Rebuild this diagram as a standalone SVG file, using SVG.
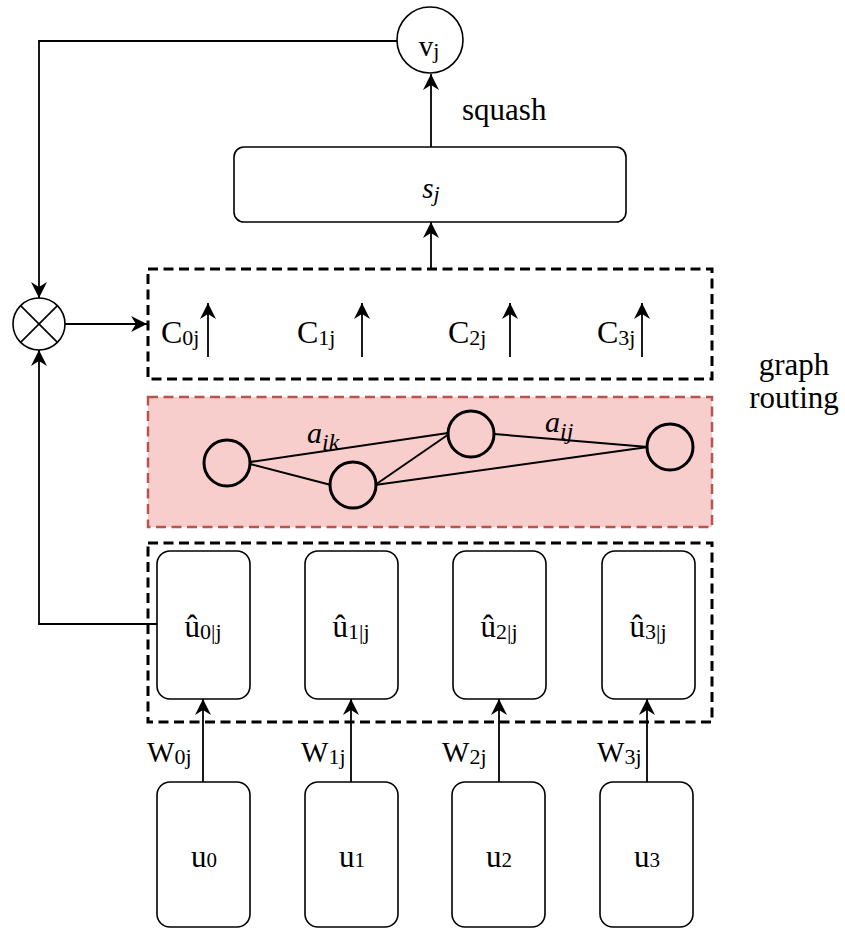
<svg xmlns="http://www.w3.org/2000/svg" width="845" height="930" viewBox="0 0 845 930" font-family="'Liberation Serif', 'Times New Roman', serif">
<style>
text{fill:#000;font-family:"Liberation Serif","Times New Roman",serif}
.t{font-size:31px}
.c{font-size:32px}
.s{font-size:22px}
.it{font-style:italic}
.box{fill:#fff;stroke:#000;stroke-width:1.6}
.dash{fill:none;stroke:#000;stroke-width:3;stroke-dasharray:10 5.5}
.pink{fill:#f8cecc;stroke:#b85450;stroke-width:2.5;stroke-dasharray:10 5.5}
.node{fill:none;stroke:#000;stroke-width:3}
.edge{stroke:#000;stroke-width:2;fill:none}
.ca{stroke:#000;stroke-width:1.8;fill:none;marker-end:url(#arr)}
</style>
<defs>
<marker id="arr" viewBox="-17 -9 18 18" markerWidth="18" markerHeight="18" refX="0" refY="0" orient="auto" markerUnits="userSpaceOnUse">
<path d="M0,0 L-16,-8 L-11,0 L-16,8 Z" fill="#000"/>
</marker>
</defs>

<g id="c-group">
<rect class="dash" x="148" y="269" width="564" height="110"/>
</g>
<g id="graph-routing">
<rect class="pink" x="148" y="397" width="564" height="130"/>
</g>
<g id="uhat-group">
<rect class="dash" x="148" y="543" width="564" height="179"/>
</g>

<g id="connectors">
<path class="ca" d="M397,41 H39 V298"/>
<path class="ca" d="M157,624 H39 V350"/>
<path class="ca" d="M65,324 H147"/>
<path class="ca" d="M431,269 V222"/>
<path class="ca" d="M431,147 V74"/>
<path class="ca" d="M208,357 V303"/>
<path class="ca" d="M362,357 V303"/>
<path class="ca" d="M510,357 V303"/>
<path class="ca" d="M642,357 V303"/>
<path class="ca" d="M203,782 V699"/>
<path class="ca" d="M351,782 V699"/>
<path class="ca" d="M499,782 V699"/>
<path class="ca" d="M647,782 V699"/>
</g>

<g id="vj">
<circle cx="430" cy="40" r="33" fill="#fff" stroke="#000" stroke-width="1.6"/>
<text x="429" y="56" text-anchor="middle"><tspan font-size="29">v</tspan><tspan class="s" dy="2">j</tspan></text>
</g>
<g id="squash-label">
<text class="t" x="462" y="120">squash</text>
</g>
<g id="sj">
<rect class="box" x="234" y="147" width="392" height="75" rx="10"/>
<text x="431" y="198" text-anchor="middle" class="it"><tspan font-size="29">s</tspan><tspan class="s" dy="3">j</tspan></text>
</g>
<g id="otimes">
<circle cx="39" cy="324" r="26" fill="#fff" stroke="#000" stroke-width="1.6"/>
<path d="M20.6,305.6 L57.4,342.4 M57.4,305.6 L20.6,342.4" stroke="#000" stroke-width="1.6"/>
</g>

<g id="c-labels">
<text x="161" y="343"><tspan class="c">C</tspan><tspan class="s" dy="2">0j</tspan></text>
<text x="297" y="343"><tspan class="c">C</tspan><tspan class="s" dy="2">1j</tspan></text>
<text x="448" y="343"><tspan class="c">C</tspan><tspan class="s" dy="2">2j</tspan></text>
<text x="597" y="343"><tspan class="c">C</tspan><tspan class="s" dy="2">3j</tspan></text>
</g>

<g id="graph-routing-label">
<text class="t" x="794" y="375" text-anchor="middle">graph</text>
<text class="t" x="794" y="408" text-anchor="middle">routing</text>
</g>

<g id="graph">
<line class="edge" x1="250" y1="462" x2="448" y2="433"/>
<line class="edge" x1="250" y1="464" x2="331" y2="485"/>
<line class="edge" x1="375" y1="485" x2="449" y2="434"/>
<line class="edge" x1="375" y1="485" x2="648" y2="447"/>
<line class="edge" x1="494" y1="434" x2="648" y2="447"/>
<circle class="node" cx="227" cy="463" r="23"/>
<circle class="node" cx="353" cy="485" r="23"/>
<circle class="node" cx="471" cy="434" r="23"/>
<circle class="node" cx="670" cy="447" r="23"/>
<text x="307" y="443" class="it"><tspan font-size="30">a</tspan><tspan font-size="24" dy="7">ik</tspan></text>
<text x="545" y="432" class="it"><tspan font-size="30">a</tspan><tspan font-size="24" dy="7">ij</tspan></text>
</g>

<g id="uhat0"><rect class="box" x="157" y="551" width="93" height="148" rx="13"/><text x="203" y="637" text-anchor="middle"><tspan class="t">û</tspan><tspan class="s" dy="2">0|j</tspan></text></g>
<g id="uhat1"><rect class="box" x="305" y="551" width="93" height="148" rx="13"/><text x="351" y="637" text-anchor="middle"><tspan class="t">û</tspan><tspan class="s" dy="2">1|j</tspan></text></g>
<g id="uhat2"><rect class="box" x="453" y="551" width="93" height="148" rx="13"/><text x="499" y="637" text-anchor="middle"><tspan class="t">û</tspan><tspan class="s" dy="2">2|j</tspan></text></g>
<g id="uhat3"><rect class="box" x="602" y="551" width="93" height="148" rx="13"/><text x="648" y="637" text-anchor="middle"><tspan class="t">û</tspan><tspan class="s" dy="2">3|j</tspan></text></g>

<g id="w-labels">
<text x="147" y="762"><tspan font-size="29">W</tspan><tspan class="s" dy="2">0j</tspan></text>
<text x="301" y="762"><tspan font-size="29">W</tspan><tspan class="s" dy="2">1j</tspan></text>
<text x="442" y="762"><tspan font-size="29">W</tspan><tspan class="s" dy="2">2j</tspan></text>
<text x="597" y="762"><tspan font-size="29">W</tspan><tspan class="s" dy="2">3j</tspan></text>
</g>

<g id="u0"><rect class="box" x="157" y="782" width="93" height="145" rx="13"/><text x="204" y="867" text-anchor="middle"><tspan class="t">u</tspan><tspan font-size="21">0</tspan></text></g>
<g id="u1"><rect class="box" x="305" y="782" width="93" height="145" rx="13"/><text x="352" y="867" text-anchor="middle"><tspan class="t">u</tspan><tspan font-size="21">1</tspan></text></g>
<g id="u2"><rect class="box" x="452" y="782" width="93" height="145" rx="13"/><text x="499" y="867" text-anchor="middle"><tspan class="t">u</tspan><tspan font-size="21">2</tspan></text></g>
<g id="u3"><rect class="box" x="600" y="782" width="93" height="145" rx="13"/><text x="647" y="867" text-anchor="middle"><tspan class="t">u</tspan><tspan font-size="21">3</tspan></text></g>
</svg>
